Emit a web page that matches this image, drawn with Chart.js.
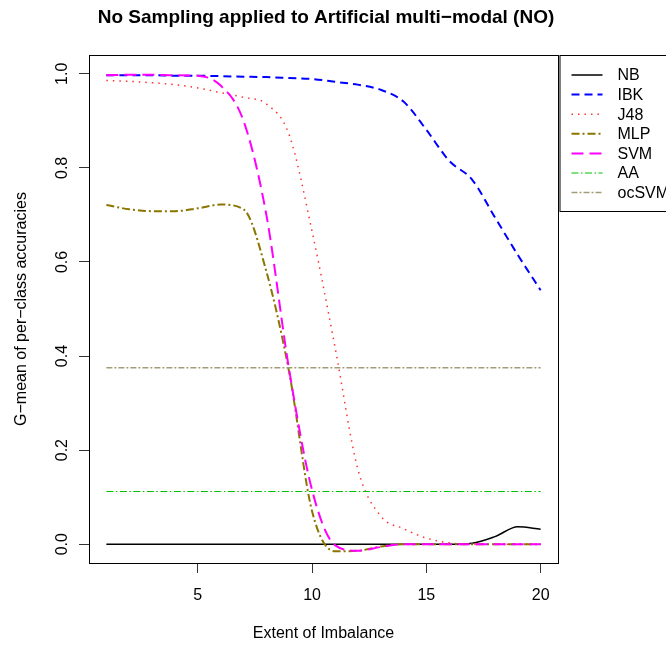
<!DOCTYPE html>
<html>
<head>
<meta charset="utf-8">
<script src="https://cdn.jsdelivr.net/npm/chart.js@4.4.0/dist/chart.umd.min.js"></script>
<style>body{margin:0;background:#fff}</style>
</head>
<body>
<canvas id="myChart" width="666" height="645"></canvas>
<script>
// extent of imbalance (x) and G-mean per classifier
const extent = [1,2,3,4,5,6,7,8,9,10,11,12,13,14,15,16,17,18,19,20];
const nbValues    = [0,0,0,0,0,0,0,0,0,0,0,0,0,0,0,0,0.002,0.016,0.037,0.032];
const ibkValues   = [0.997,0.997,0.997,0.996,0.996,0.995,0.994,0.993,0.991,0.989,0.983,0.977,0.966,0.941,0.881,0.815,0.775,0.695,0.615,0.54];
const j48Values   = [0.986,0.984,0.981,0.977,0.97,0.96,0.95,0.936,0.87,0.665,0.42,0.16,0.06,0.033,0.013,0.003,0,0,0,0];
const mlpValues   = [0.721,0.712,0.708,0.708,0.714,0.722,0.712,0.58,0.365,0.07,-0.015,-0.014,-0.005,0,0,0,0,0,0,0];
const svmValues   = [0.997,0.998,0.998,0.997,0.996,0.975,0.9,0.7,0.37,0.115,-0.002,-0.014,-0.006,0,0,0,0,0,0,0];
const aaValues    = [0.112,0.112,0.112,0.112,0.112,0.112,0.112,0.112,0.112,0.112,0.112,0.112,0.112,0.112,0.112,0.112,0.112,0.112,0.112,0.112];
const ocsvmValues = [0.375,0.375,0.375,0.375,0.375,0.375,0.375,0.375,0.375,0.375,0.375,0.375,0.375,0.375,0.375,0.375,0.375,0.375,0.375,0.375];

const xTickValues = [5,10,15,20];
const yTickValues = [0,0.2,0.4,0.6,0.8,1.0];

const FONT = "'Liberation Sans', Arial, Helvetica, sans-serif";

function toPoints(vals) {
  return vals.map((v, i) => ({x: extent[i], y: v}));
}

const series = [
  {label: 'NB',    values: nbValues,    color: '#000000', width: 1.5, dash: []},
  {label: 'IBK',   values: ibkValues,   color: '#0000ff', width: 2,   dash: [8,5]},
  {label: 'J48',   values: j48Values,   color: '#ff3030', width: 1.5, dash: [1.5,5]},
  {label: 'MLP',   values: mlpValues,   color: '#8b7500', width: 2,   dash: [8,3,2,3]},
  {label: 'SVM',   values: svmValues,   color: '#ff00ff', width: 2,   dash: [12,6]},
  {label: 'AA',    values: aaValues,    color: '#00c000', width: 1,   dash: [7,2.5,1.5,2.5]},
  {label: 'ocSVM', values: ocsvmValues, color: '#a39c78', width: 1.5, dash: [6,2,2,2]}
];

const framePlugin = {
  id: 'frame',
  beforeDraw(chart) {
    const ctx = chart.ctx;
    ctx.save();
    ctx.fillStyle = '#fff';
    ctx.fillRect(0, 0, chart.width, chart.height);
    ctx.restore();
  },
  afterDraw(chart) {
    const ctx = chart.ctx;
    const a = chart.chartArea;
    ctx.save();
    // plot box
    ctx.strokeStyle = '#000';
    ctx.lineWidth = 1;
    ctx.setLineDash([]);
    ctx.strokeRect(Math.round(a.left) + 0.5, Math.round(a.top) + 0.5, Math.round(a.right - a.left), Math.round(a.bottom - a.top));

    // title
    ctx.fillStyle = '#000';
    ctx.font = 'bold 19px ' + FONT;
    ctx.textAlign = 'center';
    ctx.textBaseline = 'alphabetic';
    ctx.fillText('No Sampling applied to Artificial multi\u2212modal (NO)', 326, 23);

    // y tick labels, rotated like R's default
    const y = chart.scales.y;
    ctx.font = '16px ' + FONT;
    y.ticks.forEach(t => {
      ctx.save();
      ctx.translate(67, y.getPixelForValue(t.value));
      ctx.rotate(-Math.PI / 2);
      ctx.textAlign = 'center';
      ctx.fillText(t.value.toFixed(1), 0, 0);
      ctx.restore();
    });

    // legend
    const lx = a.right + 1.5;
    ctx.strokeStyle = '#000';
    ctx.lineWidth = 1;
    ctx.strokeRect(lx + 0.5, a.top + 0.5, 200, 156);
    ctx.textAlign = 'left';
    ctx.textBaseline = 'middle';
    chart.data.datasets.forEach((ds, i) => {
      const yy = a.top + 20 + i * 19.6;
      ctx.strokeStyle = ds.borderColor;
      ctx.lineWidth = ds.borderWidth;
      ctx.setLineDash(ds.borderDash);
      ctx.beginPath();
      ctx.moveTo(lx + 12, yy);
      ctx.lineTo(lx + 43, yy);
      ctx.stroke();
      ctx.fillStyle = '#000';
      ctx.fillText(ds.label, lx + 58, yy + 1);
    });
    ctx.restore();
  }
};

const ctx = document.getElementById('myChart').getContext('2d');
const myChart = new Chart(ctx, {
  type: 'line',
  data: {
    datasets: series.map((s, i) => ({
      label: s.label,
      data: toPoints(s.values),
      borderColor: s.color,
      borderWidth: s.width,
      borderDash: s.dash,
      pointRadius: 0,
      fill: false,
      cubicInterpolationMode: 'monotone',
      order: series.length - i
    }))
  },
  options: {
    responsive: false,
    animation: false,
    layout: {padding: {left: 0, right: 108, top: 55, bottom: 0}},
    plugins: {legend: {display: false}, tooltip: {enabled: false}},
    scales: {
      x: {
        type: 'linear',
        min: 0.24,
        max: 20.76,
        afterBuildTicks: s => { s.ticks = xTickValues.map(v => ({value: v})); },
        afterFit: s => { s.height = 82; },
        grid: {drawOnChartArea: false, drawTicks: true, tickLength: 10, color: '#333'},
        border: {display: false},
        ticks: {color: '#000', font: {family: FONT, size: 16}, padding: 13, maxRotation: 0},
        title: {display: true, text: 'Extent of Imbalance', color: '#000', font: {family: FONT, size: 16}, padding: {top: 0, bottom: 2}}
      },
      y: {
        type: 'linear',
        min: -0.04,
        max: 1.04,
        afterBuildTicks: s => { s.ticks = yTickValues.map(v => ({value: v})); },
        afterFit: s => { s.width = 89; },
        grid: {drawOnChartArea: false, drawTicks: true, tickLength: 10, color: '#333'},
        border: {display: false},
        ticks: {display: false},
        title: {display: true, text: 'G\u2212mean of per\u2212class accuracies', color: '#000', font: {family: FONT, size: 16}, padding: {top: 12, bottom: 0}}
      }
    }
  },
  plugins: [framePlugin]
});
</script>
</body>
</html>
